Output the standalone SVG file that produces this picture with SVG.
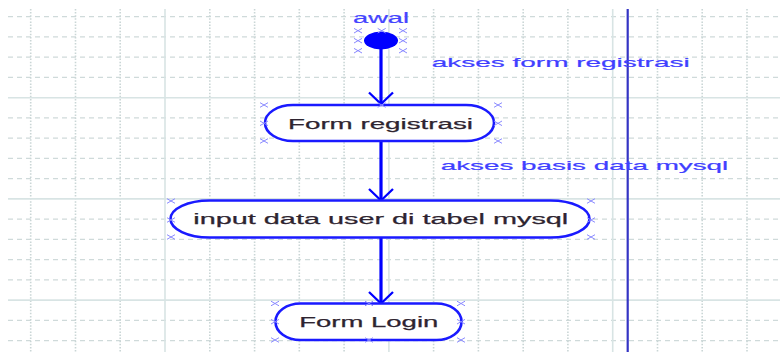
<svg xmlns="http://www.w3.org/2000/svg" width="780" height="352" viewBox="0 0 780 352">
  <defs>
    <style>
      .gh { stroke: #cfdada; stroke-width: 1.2; stroke-dasharray: 5 4; fill: none; }
      .gv { stroke: #cad6d6; stroke-width: 1.6; stroke-dasharray: 1.5 1.6; fill: none; }
      .gs { stroke: #d8e4e4; stroke-width: 1.6; fill: none; }
      .node { fill: #ffffff; stroke: #1a1aff; stroke-width: 2.6; }
      .nt { font-family: "Liberation Sans", Arial, sans-serif; font-size: 15.5px; fill: #2e2430; stroke: #2e2430; stroke-width: 0.25; }
      .lbl { font-family: "Liberation Sans", Arial, sans-serif; font-size: 13.5px; fill: #4040ff; stroke: #4040ff; stroke-width: 0.2; }
      .edge { stroke: #0000ff; stroke-width: 3.2; fill: none; }
      .sel { stroke: #8a8aff; stroke-width: 1; fill: none; }
    </style>
    <path id="xm" d="M-4,-2.3 L4,2.3 M-4,2.3 L4,-2.3"/>
    <marker id="arr" viewBox="-14 -14 16 28" refX="0" refY="0" markerWidth="16" markerHeight="28" markerUnits="userSpaceOnUse" orient="auto" overflow="visible">
      <path d="M-11.5,-12 L0,0 L-11.5,12" fill="none" stroke="#0000ff" stroke-width="2.3"/>
    </marker>
  </defs>

  <rect x="0" y="0" width="780" height="352" fill="#ffffff"/>

  <g id="grid">
    <g class="gh">
      <line x1="8" y1="16.7" x2="780" y2="16.7"/>
      <line x1="8" y1="36.9" x2="780" y2="36.9"/>
      <line x1="8" y1="57.2" x2="780" y2="57.2"/>
      <line x1="8" y1="77.4" x2="780" y2="77.4"/>
      <line x1="8" y1="117.9" x2="780" y2="117.9"/>
      <line x1="8" y1="138.1" x2="780" y2="138.1"/>
      <line x1="8" y1="158.4" x2="780" y2="158.4"/>
      <line x1="8" y1="178.6" x2="780" y2="178.6"/>
      <line x1="8" y1="219.1" x2="780" y2="219.1"/>
      <line x1="8" y1="239.3" x2="780" y2="239.3"/>
      <line x1="8" y1="259.6" x2="780" y2="259.6"/>
      <line x1="8" y1="279.8" x2="780" y2="279.8"/>
      <line x1="8" y1="320.3" x2="780" y2="320.3"/>
      <line x1="8" y1="340.6" x2="780" y2="340.6"/>
    </g>
    <g class="gv">
      <line x1="30.7" y1="9" x2="30.7" y2="352"/>
      <line x1="75.5" y1="9" x2="75.5" y2="352"/>
      <line x1="120.2" y1="9" x2="120.2" y2="352"/>
      <line x1="209.8" y1="9" x2="209.8" y2="352"/>
      <line x1="254.6" y1="9" x2="254.6" y2="352"/>
      <line x1="299.3" y1="9" x2="299.3" y2="352"/>
      <line x1="344.1" y1="9" x2="344.1" y2="352"/>
      <line x1="433.6" y1="9" x2="433.6" y2="352"/>
      <line x1="478.4" y1="9" x2="478.4" y2="352"/>
      <line x1="523.2" y1="9" x2="523.2" y2="352"/>
      <line x1="567.9" y1="9" x2="567.9" y2="352"/>
      <line x1="657.5" y1="9" x2="657.5" y2="352"/>
      <line x1="702.2" y1="9" x2="702.2" y2="352"/>
      <line x1="747" y1="9" x2="747" y2="352"/>
    </g>
    <g class="gs">
      <line x1="8" y1="97.7" x2="780" y2="97.7"/>
      <line x1="8" y1="198.9" x2="780" y2="198.9"/>
      <line x1="8" y1="300.1" x2="780" y2="300.1"/>
      <line x1="165" y1="9" x2="165" y2="352"/>
      <line x1="388.9" y1="9" x2="388.9" y2="352"/>
      <line x1="612.7" y1="9" x2="612.7" y2="352"/>
    </g>
  </g>

  <g id="lane">
    <line x1="627.7" y1="9" x2="627.7" y2="352" stroke="#3434c4" stroke-width="2.2"/>
  </g>

  <g id="connectors">
    <line class="edge" x1="381" y1="48" x2="381" y2="104" marker-end="url(#arr)"/>
    <line class="edge" x1="381" y1="141" x2="381" y2="200.5" marker-end="url(#arr)"/>
    <line class="edge" x1="381" y1="237.5" x2="381" y2="303.5" marker-end="url(#arr)"/>
    <text class="lbl" x="431.7" y="66.5" textLength="258" lengthAdjust="spacingAndGlyphs">akses form registrasi</text>
    <text class="lbl" x="440.7" y="170" textLength="287.6" lengthAdjust="spacingAndGlyphs">akses basis data mysql</text>
  </g>

  <g id="start">
    <ellipse cx="381" cy="40.5" rx="17" ry="9" fill="#0000ff"/>
    <text x="381" y="23" text-anchor="middle" font-family="'Liberation Sans', Arial, sans-serif" font-size="15.5" fill="#4444ff" stroke="#4444ff" stroke-width="0.2" textLength="56" lengthAdjust="spacingAndGlyphs">awal</text>
    <g class="sel">
      <use href="#xm" x="358" y="30.7"/><use href="#xm" x="381.7" y="30.7"/><use href="#xm" x="403" y="30.7"/>
      <use href="#xm" x="358" y="40.7"/><use href="#xm" x="403" y="40.7"/>
      <use href="#xm" x="358" y="50.7"/><use href="#xm" x="403" y="50.7"/>
    </g>
  </g>

  <g id="form-registrasi">
    <rect class="node" x="265" y="105" width="229" height="36" rx="28" ry="18"/>
    <text class="nt" x="288" y="128.5" textLength="185" lengthAdjust="spacingAndGlyphs">Form registrasi</text>
    <g class="sel">
      <use href="#xm" x="264" y="105"/><use href="#xm" x="381.7" y="105"/><use href="#xm" x="498" y="105"/>
      <use href="#xm" x="264" y="123.3"/><use href="#xm" x="498" y="123.3"/>
      <use href="#xm" x="264" y="141"/><use href="#xm" x="498" y="141"/>
    </g>
  </g>

  <g id="input-data">
    <rect class="node" x="170.5" y="200.5" width="419" height="37" rx="39" ry="18.5"/>
    <text class="nt" x="193.3" y="223.5" textLength="375" lengthAdjust="spacingAndGlyphs">input data user di tabel mysql</text>
    <g class="sel">
      <use href="#xm" x="171" y="201"/><use href="#xm" x="591" y="201"/>
      <use href="#xm" x="171" y="220"/><use href="#xm" x="591" y="220"/>
      <use href="#xm" x="171" y="237"/><use href="#xm" x="591" y="237"/>
    </g>
  </g>

  <g id="form-login">
    <rect class="node" x="275.5" y="303.5" width="186" height="36.5" rx="25" ry="18"/>
    <text class="nt" x="299.3" y="326.5" textLength="139" lengthAdjust="spacingAndGlyphs">Form Login</text>
    <g class="sel">
      <use href="#xm" x="275" y="303.5"/><use href="#xm" x="369" y="303.5"/><use href="#xm" x="461" y="303.5"/>
      <use href="#xm" x="275" y="321.7"/><use href="#xm" x="461" y="321.7"/>
      <use href="#xm" x="275" y="340"/><use href="#xm" x="369" y="340"/><use href="#xm" x="461" y="340"/>
    </g>
  </g>
</svg>
